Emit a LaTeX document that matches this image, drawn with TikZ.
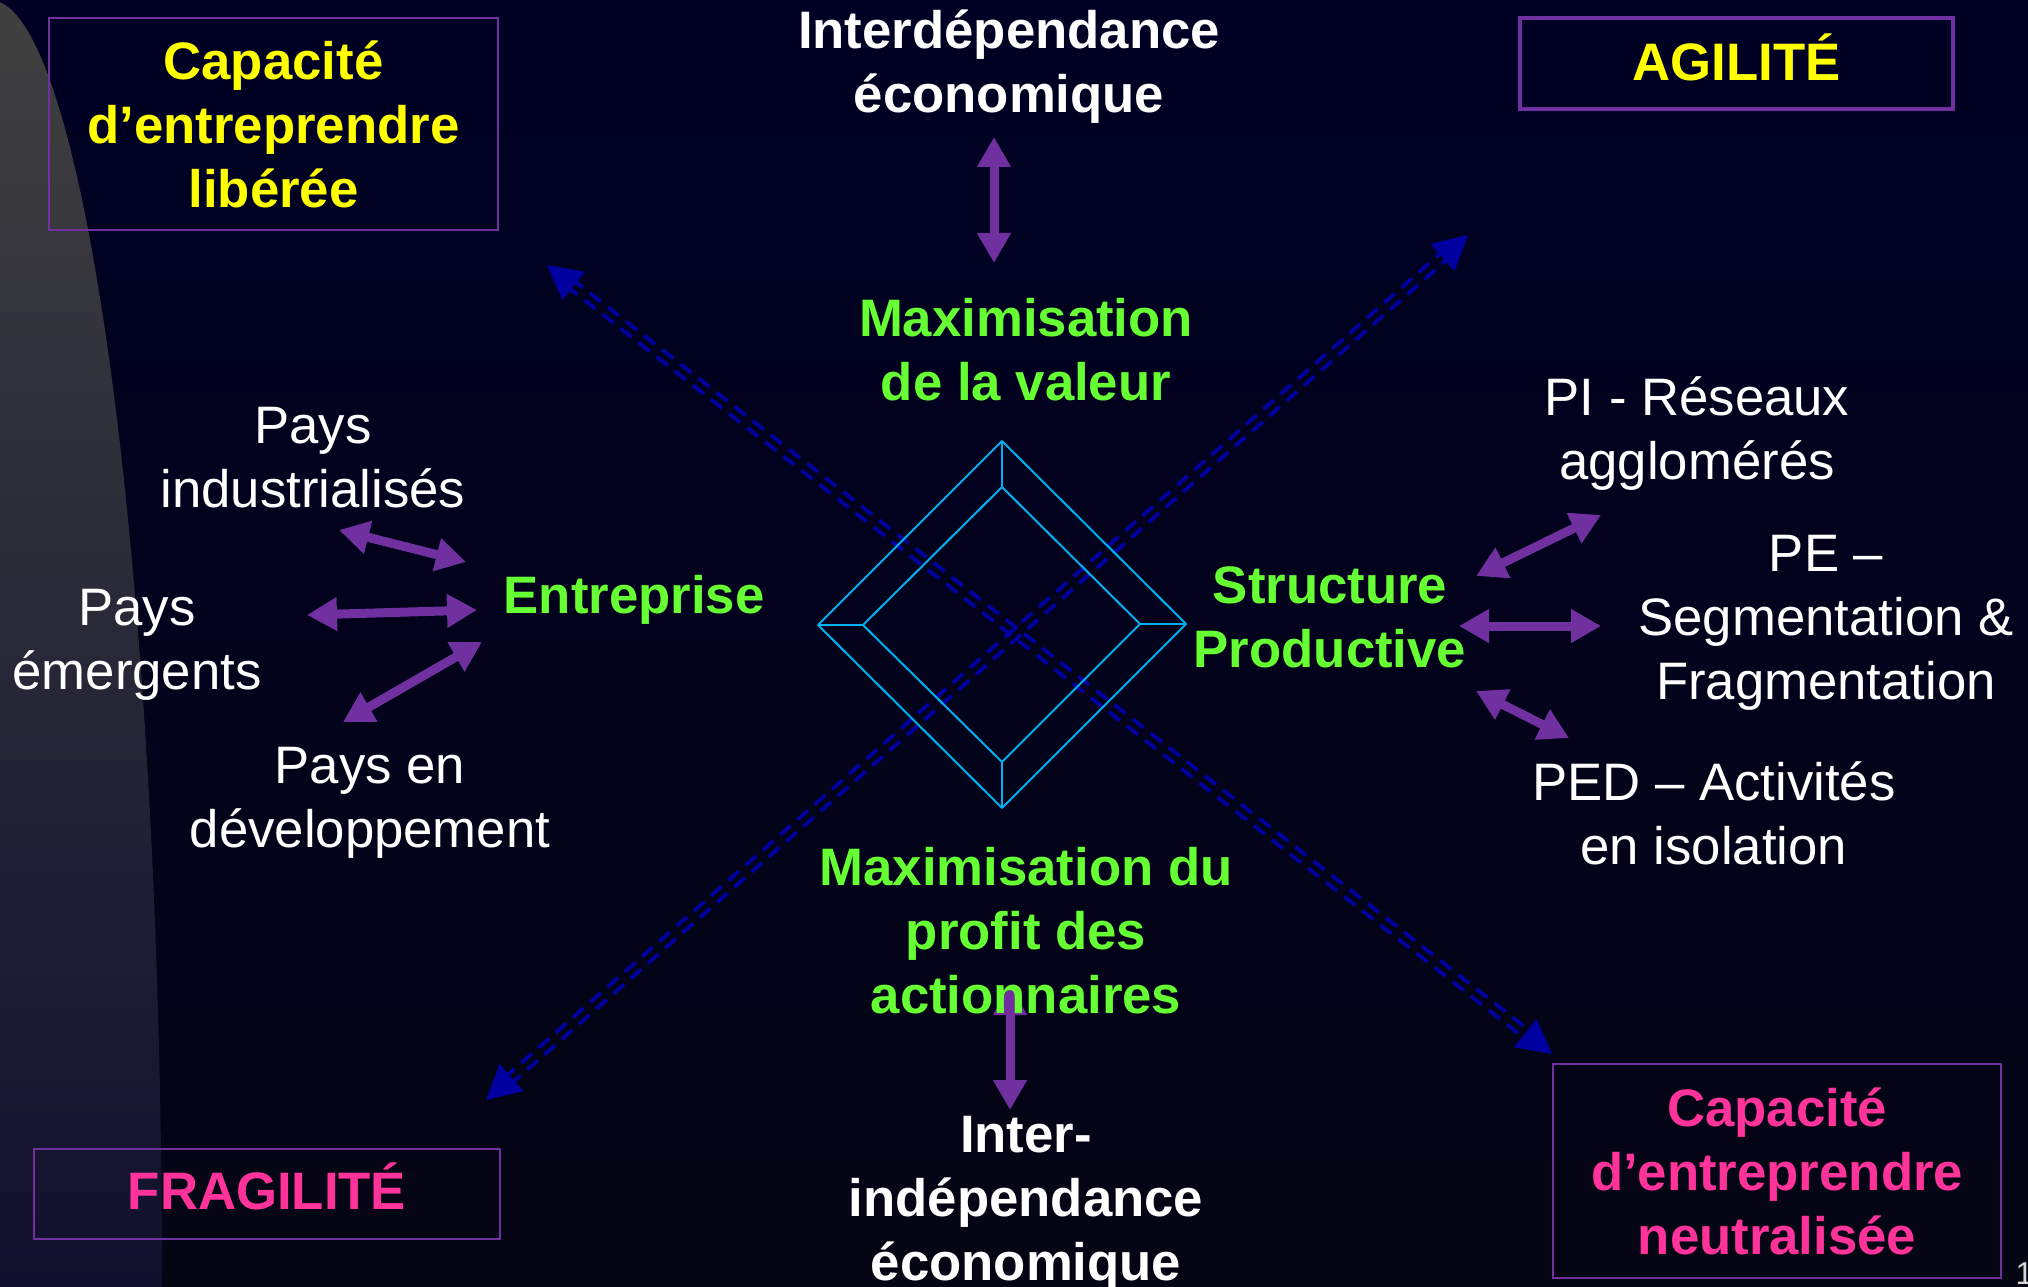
\documentclass[tikz,border=0pt]{standalone}
\usepackage{fontspec}
\setmainfont{Liberation Sans}
\usetikzlibrary{arrows.meta,calc}

\definecolor{slidenavy}{RGB}{0,0,36}
\definecolor{slidenavylow}{RGB}{5,5,20}
\definecolor{curtaintop}{RGB}{64,64,64}
\definecolor{curtainlow}{RGB}{16,16,46}
\definecolor{linkpurple}{RGB}{112,48,160}
\definecolor{axisblue}{RGB}{0,0,160}
\definecolor{facetcyan}{RGB}{0,176,240}
\definecolor{keygreen}{RGB}{102,255,51}
\definecolor{keyyellow}{RGB}{255,255,0}
\definecolor{keypink}{RGB}{255,51,153}
\definecolor{numgray}{RGB}{215,215,215}
\newcommand{\slidefont}{\fontsize{15}{18.2}\selectfont}

\tikzset{
  textplain/.style={text=white, align=center, font=\slidefont},
  textbold/.style={align=center, font=\slidefont\bfseries},
  framebox/.style={textbold, draw=linkpurple, line width=0.2mm},
  twoway/.style={{Triangle[length=3mm,width=3.2mm]}-{Triangle[length=3mm,width=3.2mm]}, draw=linkpurple, line width=0.9mm},
  axisdash/.style={axisblue, line width=0.38mm, dash pattern=on 1.4mm off 0.9mm, shorten <=2.8mm, shorten >=2.8mm},
  axistip/.style={-{Triangle[length=3.4mm,width=3.6mm]}, axisblue, line width=0.1mm},
  facet/.style={facetcyan, line width=0.2mm, line join=round},
}

\begin{document}
\begin{tikzpicture}[x=0.1mm,y=-0.1mm]
    % background
    \fill[top color=slidenavy, bottom color=slidenavylow] (0,0) rectangle (2028,1287);
    \useasboundingbox (0,0) rectangle (2028,1287);
    \begin{scope}
      \clip (0,0) rectangle (2028,1287);
      \fill[top color=curtaintop, bottom color=curtainlow, middle color=curtainlow] (-10,1287) ellipse [x radius=172, y radius=1287];
    \end{scope}

    \coordinate (ul) at (547,265);
    \coordinate (lr) at (1552,1054);
    \coordinate (ll) at (486,1100);
    \coordinate (ur) at (1468,235);

    %axes
    \foreach \s/\e in {ul/lr, ll/ur} {
      \draw[axisdash] ($(\s)!0.45mm!90:(\e)$) -- ($(\e)!0.45mm!-90:(\s)$);
      \draw[axisdash] ($(\s)!0.45mm!-90:(\e)$) -- ($(\e)!0.45mm!90:(\s)$);
    }
    \foreach \s/\e in {ul/lr, lr/ul, ll/ur, ur/ll}
      \draw[axistip] ($(\s)!3.4mm!(\e)$) -- (\s);

    %diamond
    \coordinate (oN) at (1002,441);
    \coordinate (oE) at (1186,624);
    \coordinate (oS) at (1002,808);
    \coordinate (oW) at (818,625);
    \coordinate (iN) at (1002,487);
    \coordinate (iE) at (1140,624);
    \coordinate (iS) at (1002,762);
    \coordinate (iW) at (863,625);
    \draw[facet] (oN) -- (oE) -- (oS) -- (oW) -- cycle;
    \draw[facet] (iN) -- (iE) -- (iS) -- (iW) -- cycle;
    \foreach \v in {N,E,S,W}
      \draw[facet] (o\v) -- (i\v);

    \coordinate (indA) at (339,530);
    \coordinate (indB) at (466,562);
    \coordinate (emA) at (307,615);
    \coordinate (emB) at (477,610);
    \coordinate (devA) at (343,722);
    \coordinate (devB) at (482,642);
    \coordinate (piA) at (1476,576);
    \coordinate (piB) at (1601,515);
    \coordinate (peA) at (1459,626);
    \coordinate (peB) at (1601,626);
    \coordinate (pedA) at (1476,691);
    \coordinate (pedB) at (1569,738);
    \coordinate (topA) at (994,137);
    \coordinate (topB) at (994,263);
    \coordinate (botA) at (1010,985);
    \coordinate (botB) at (1010,1110);

    \foreach \a in {ind,em,dev,pi,pe,ped,top,bot}
      \draw[twoway] (\a A) -- (\a B);

    \node[textbold, text=white] (interdep) at (1009,67) {Interdépendance\\économique};
    \node[textbold, text=keygreen] (valeur) at (1026,350) {Maximisation\\de la valeur};
    \node[textbold, text=keygreen] (profit) at (1026,931) {Maximisation du\\profit des\\actionnaires};
    \node[textbold, text=white] (interindep) at (1026,1204) {Inter-\\indépendance\\économique};
    \node[textbold, text=keygreen] (entreprise) at (634,600) {Entreprise};
    \node[textbold, text=keygreen] (structure) at (1330,617) {Structure\\Productive};

    \node[textplain] (industrialises) at (313,458) {Pays\\industrialisés};
    \node[textplain] (emergents) at (137,645) {Pays\\émergents};
    \node[textplain] (developpement) at (370,803) {Pays en\\développement};
    \node[textplain] (reseaux) at (1697,434) {PI - Réseaux\\agglomérés};
    \node[textplain] (segmentation) at (1826,623) {PE –\\Segmentation \&\\Fragmentation};
    \node[textplain] (isolation) at (1714,813) {PED – Activités\\en isolation};

    \node[framebox, text=keyyellow, minimum width=44.9mm, minimum height=21.2mm] (liberee) at (273.5,124) {Capacité\\d’entreprendre\\libérée};
    \node[framebox, text=keyyellow, line width=0.4mm, text depth=1.2mm, minimum width=43.3mm, minimum height=9.1mm] (agilite) at (1736.5,63.5) {AGILITÉ};
    \node[framebox, text=keypink, text depth=1.6mm, minimum width=46.6mm, minimum height=9mm] (fragilite) at (267,1194) {FRAGILITÉ};
    \node[framebox, text=keypink, minimum width=44.8mm, minimum height=21.4mm] (neutralisee) at (1777,1171) {Capacité\\d’entreprendre\\neutralisée};

    \node[anchor=base west, inner sep=0pt, text=numgray, font=\fontsize{9}{10}\selectfont] (slideno) at (2015,1284) {1};
\end{tikzpicture}
\end{document}
